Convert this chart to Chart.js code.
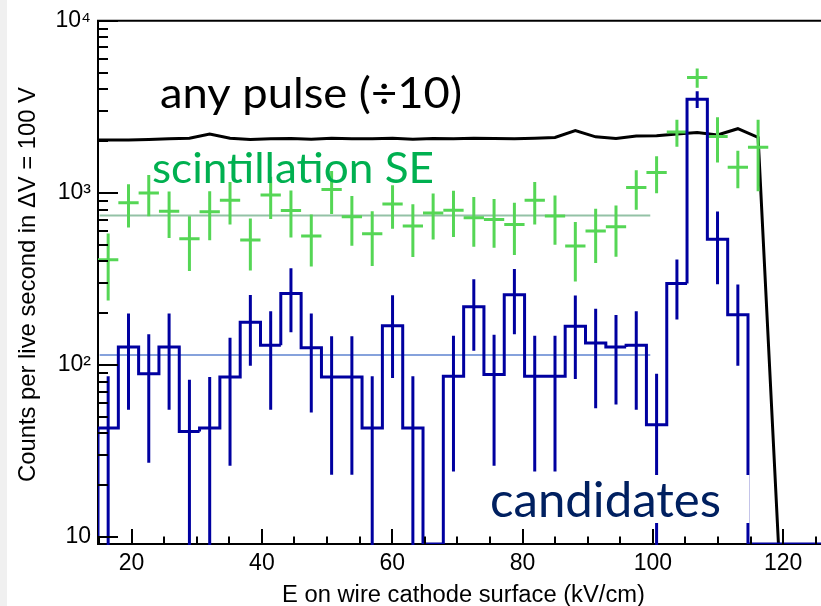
<!DOCTYPE html>
<html><head><meta charset="utf-8">
<script src="https://cdn.jsdelivr.net/npm/chart.js@4/dist/chart.umd.min.js"></script>
<style>
html,body{margin:0;padding:0;background:#fff;}
#wrap{position:relative;width:821px;height:606px;overflow:hidden;background:#fff;}
#band{position:absolute;left:0;top:0;width:7px;height:606px;background:#f0f0f0;}
canvas{position:absolute;left:0;top:0;}
</style></head><body>
<div id="wrap"><div id="band"></div><canvas id="c" width="821" height="606"></canvas></div>
<script>
// ---- data ----
const binCenters = [16.41, 19.53, 22.64, 25.76, 28.88, 31.99, 35.11, 38.23, 41.35, 44.46,
  47.58, 50.70, 53.81, 56.93, 60.05, 63.17, 66.28, 69.40, 72.52, 75.63,
  78.75, 81.87, 84.98, 88.10, 91.22, 94.34, 97.45, 100.57, 103.69, 106.80,
  109.92, 113.04, 116.15, 119.27, 122.39, 125.51];
const binWidth = 3.117;

const candidates = [43, 127, 89, 127, 41, 43, 85, 177, 130, 260,
  126, 85, 85, 43, 169, 43, 0, 86, 218, 88,
  256, 86, 86, 168, 134, 127, 130, 45, 297, 3500,
  537, 196, 0, 0, 0, 0];
const candidatesErr = [43, 72, 62, 72, 41, 42, 59, 78, 75, 105,
  73, 62, 62, 43, 85, 43, 0, 62, 97, 62,
  105, 62, 62, 85, 78, 68, 75, 44, 113, 390,
  243, 97, 0, 0, 0, 0];

const scintSE = [409, 875, 1000, 783, 542, 776, 907, 532, 972, 791,
  561, 1047, 726, 579, 863, 641, 763, 792, 716, 701,
  656, 907, 733, 491, 600, 635, 1075, 1313, 2256, 4677,
  2128, 1409, 1840];
const scintSEErr = [172, 246, 269, 236, 190, 245, 251, 178, 267, 240,
  187, 293, 233, 203, 244, 217, 228, 237, 229, 221,
  220, 251, 234, 186, 209, 210, 278, 318, 405, 600,
  627, 346, 819];

const anyPulse = [2030, 2030, 2040, 2060, 2080, 2200, 2080, 2040, 2060, 2070,
  2050, 2080, 2060, 2060, 2080, 2050, 2070, 2060, 2080, 2070,
  2060, 2080, 2100, 2300, 2117, 2070, 2140, 2150, 2200, 2240,
  2170, 2360, 2100, 0];

const fitRange = [15.1, 99.6];
const scintFitLevel = [740, 740];
const candFitLevel = [114.4, 114.4];

const xRange = [14.85, 125.8];
const yRange = [9.11, 10000];
const xMajorStep = 20, xMinorStep = 5;

const labels = {
  any: 'any pulse (\u00f710)',
  scint: 'scintillation SE',
  cand: 'candidates',
  xTitle: 'E on wire cathode surface (kV/cm)',
  yTitle: 'Counts per live second in \u0394V = 100 V'
};

// ---- build datasets ----
const FLOOR = yRange[0];
const histPts = [{x: binCenters[0] - binWidth / 2, y: FLOOR}];
candidates.forEach((v, k) => {
  const yv = v > 0 ? v : FLOOR;
  histPts.push({x: binCenters[k] - binWidth / 2, y: yv});
  histPts.push({x: binCenters[k] + binWidth / 2, y: yv});
});
const anyPts = [{x: binCenters[0] - binWidth / 2, y: anyPulse[0]}]
  .concat(anyPulse.map((v, k) => ({x: binCenters[k], y: v > 0 ? v : FLOOR})));
const scintPts = scintSE.map((v, k) => ({x: binCenters[k], y: v}));

const SUP = {2: '\u00b2', 3: '\u00b3', 4: '\u2074'};
const AXFONT = '"Liberation Sans", Arial, Helvetica, sans-serif';
const BLUE = '#0000a0', GREEN = '#55d655';

function clipArea(ctx, a) {
  ctx.beginPath(); ctx.rect(a.left, a.top - 2, a.right - a.left, a.bottom - a.top + 3); ctx.clip();
}
function drawFitText(ctx, text, font, color, left, right, baseline) {
  ctx.save();
  ctx.font = font;
  const w = ctx.measureText(text).width;
  ctx.translate(left, baseline);
  ctx.scale((right - left) / w, 1);
  ctx.fillStyle = color; ctx.textBaseline = 'alphabetic'; ctx.textAlign = 'left';
  ctx.fillText(text, 0, 0);
  ctx.restore();
}

const rootPlugin = {
  id: 'rootStyle',
  afterDatasetDraw(chart, args) {
    const ds = chart.data.datasets[args.index];
    const {ctx, chartArea: a, scales: {x, y}} = chart;
    const py = v => v > 0 ? y.getPixelForValue(v) : a.bottom + 10;
    if (ds.label === 'scint') {
      ctx.save(); clipArea(ctx, a);
      ctx.strokeStyle = GREEN; ctx.lineWidth = 3; ctx.lineCap = 'butt';
      scintSE.forEach((v, k) => {
        const cx = x.getPixelForValue(binCenters[k]);
        const x0 = x.getPixelForValue(binCenters[k] - binWidth / 2);
        const x1 = x.getPixelForValue(binCenters[k] + binWidth / 2);
        ctx.beginPath();
        ctx.moveTo(cx, py(v + scintSEErr[k])); ctx.lineTo(cx, py(v - scintSEErr[k]));
        ctx.moveTo(x0, py(v)); ctx.lineTo(x1, py(v));
        ctx.stroke();
      });
      ctx.restore();
    }
    if (ds.label === 'candidates') {
      ctx.save(); clipArea(ctx, a);
      ctx.strokeStyle = BLUE; ctx.lineWidth = 3; ctx.lineCap = 'butt';
      candidates.forEach((v, k) => {
        if (v <= 0) return;
        const cx = x.getPixelForValue(binCenters[k]);
        ctx.beginPath();
        ctx.moveTo(cx, py(v + candidatesErr[k])); ctx.lineTo(cx, py(v - candidatesErr[k]));
        ctx.stroke();
      });
      ctx.restore();
    }
  },
  afterDraw(chart) {
    const {ctx, chartArea: a, scales: {x, y}} = chart;
    ctx.save();
    ctx.strokeStyle = '#000';
    ctx.lineWidth = 2;
    ctx.beginPath(); ctx.moveTo(a.left - 1, a.top); ctx.lineTo(a.right, a.top); ctx.stroke();
    // inward ticks, y
    ctx.beginPath();
    for (let e = 1; e <= 4; e++) {
      for (let m = 1; m <= 9; m++) {
        const v = m * Math.pow(10, e);
        if (v > yRange[1] + 1e-6) break;
        const p = Math.round(y.getPixelForValue(v));
        const len = m === 1 ? 20 : 10;
        ctx.moveTo(a.left, p); ctx.lineTo(a.left + len, p);
      }
    }
    // inward ticks, x
    for (let v = Math.ceil(xRange[0] / xMinorStep) * xMinorStep; v <= xRange[1]; v += xMinorStep) {
      const p = Math.round(x.getPixelForValue(v));
      const len = v % xMajorStep === 0 ? 15 : 7.5;
      ctx.moveTo(p, a.bottom); ctx.lineTo(p, a.bottom - len);
    }
    ctx.stroke();
    // axis titles
    drawFitText(ctx, labels.xTitle, '23px ' + AXFONT, '#000', 282, 645, 602);
    ctx.save();
    ctx.translate(35, 482); ctx.rotate(-Math.PI / 2);
    drawFitText(ctx, labels.yTitle, '24px ' + AXFONT, '#000', 0, 395, 0);
    ctx.restore();
    // overlay labels
    drawFitText(ctx, labels.any, '42px Lato, "Open Sans", sans-serif', '#000', 160, 462, 108);
    drawFitText(ctx, labels.scint, '43px Lato, "Open Sans", sans-serif', '#00b050', 152, 434, 183);
    ctx.fillStyle = '#fff';
    ctx.fillRect(484, 475, 265.5, 48);
    drawFitText(ctx, labels.cand, '49px Lato, "Open Sans", sans-serif', '#002060', 490, 721, 517);
    ctx.restore();
  }
};

new Chart(document.getElementById('c'), {
  type: 'line',
  data: {
    datasets: [
      {label: 'candidates', data: histPts, borderColor: BLUE, borderWidth: 3, order: 0,
       pointRadius: 0, borderJoinStyle: 'miter', borderCapStyle: 'butt', fill: false},
      {label: 'scint', data: scintPts, showLine: false, pointRadius: 0, order: 1},
      {label: 'any', data: anyPts, borderColor: '#000', borderWidth: 3, order: 2, pointRadius: 0, fill: false},
      {label: 'scintFit', data: [{x: fitRange[0], y: scintFitLevel[0]}, {x: fitRange[1], y: scintFitLevel[1]}],
       borderColor: '#93c2a6', borderWidth: 2, order: 3, pointRadius: 0},
      {label: 'candFit', data: [{x: fitRange[0], y: candFitLevel[0]}, {x: fitRange[1], y: candFitLevel[1]}],
       borderColor: '#86a2dc', borderWidth: 2, order: 3, pointRadius: 0}
    ]
  },
  options: {
    responsive: false, animation: false, devicePixelRatio: 1,
    layout: {padding: {top: 19, left: 0, right: 0, bottom: 0}},
    elements: {line: {tension: 0}, point: {radius: 0}},
    plugins: {legend: {display: false}, tooltip: {enabled: false}},
    scales: {
      x: {
        type: 'linear', position: 'bottom', min: xRange[0], max: xRange[1],
        grid: {display: false, drawTicks: false},
        border: {display: true, color: '#000', width: 2},
        ticks: {stepSize: xMajorStep, includeBounds: false, autoSkip: false, maxRotation: 0,
          padding: 6, color: '#000', font: {family: AXFONT, size: 23},
          callback: v => (v % xMajorStep === 0 ? String(v) : '')},
        afterFit: s => { s.height = 62; }
      },
      y: {
        type: 'logarithmic', position: 'left', min: yRange[0], max: yRange[1],
        grid: {display: false, drawTicks: false},
        border: {display: true, color: '#000', width: 2},
        ticks: {autoSkip: false, padding: 7, color: '#000', font: {family: AXFONT, size: 23},
          callback: v => {
            const e = Math.log10(v);
            if (Math.abs(e - Math.round(e)) > 1e-6) return '';
            const n = Math.round(e);
            return n === 1 ? '10' : '10' + (SUP[n] || '');
          }},
        afterFit: s => { s.width = 98; }
      }
    }
  },
  plugins: [rootPlugin]
});
</script>
</body></html>
